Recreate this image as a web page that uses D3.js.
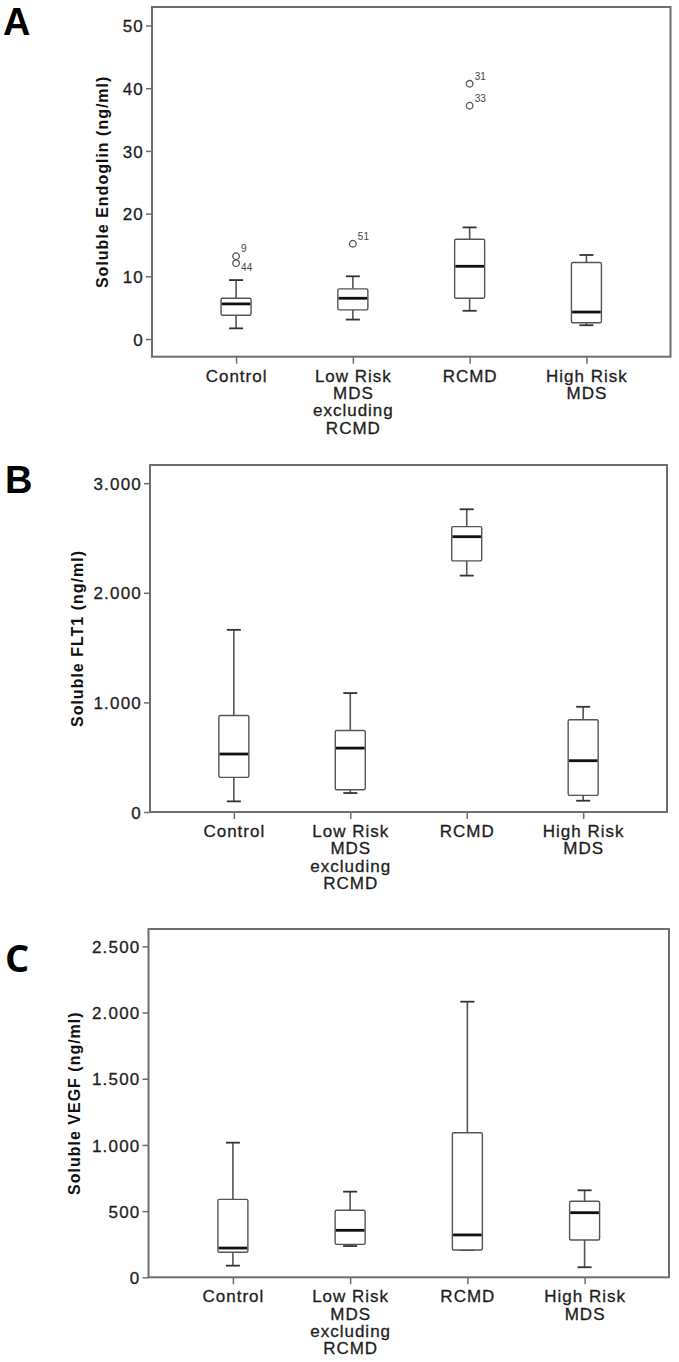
<!DOCTYPE html>
<html>
<head>
<meta charset="utf-8">
<script src="https://cdn.jsdelivr.net/npm/d3@7/dist/d3.min.js"></script>
<style>
  html, body { margin: 0; padding: 0; background: #fff; }
  svg { display: block; }
</style>
</head>
<body>
<svg id="chart" width="679" height="1362"></svg>
<script>
// ---------------- DATA ----------------
const categories = ["Control", "Low Risk MDS excluding RCMD", "RCMD", "High Risk MDS"];
const categoryLines = [["Control"], ["Low Risk", "MDS", "excluding", "RCMD"], ["RCMD"], ["High Risk", "MDS"]];

// five-number summaries: [lower whisker, Q1, median, Q3, upper whisker]
const endoglinStats = [
  [1.7, 3.8, 5.6, 6.5, 9.4],
  [3.1, 4.65, 6.5, 8.0, 10.0],
  [4.5, 6.5, 11.6, 15.9, 17.8],
  [2.2, 2.6, 4.3, 12.2, 13.4]
];
const endoglinOutliers = [
  { cat: 0, value: 13.2, label: "9", pos: "up" },
  { cat: 0, value: 12.1, label: "44", pos: "down" },
  { cat: 1, value: 15.2, label: "51", pos: "up" },
  { cat: 2, value: 40.7, label: "31", pos: "up" },
  { cat: 2, value: 37.2, label: "33", pos: "up" }
];
const endoglinTicks = [0, 10, 20, 30, 40, 50];

const flt1Stats = [
  [97, 316, 529, 881, 1662],
  [173, 203, 583, 744, 1085],
  [2157, 2291, 2512, 2604, 2762],
  [103, 152, 468, 841, 960]
];
const flt1Ticks = [0, 1000, 2000, 3000];

const vegfStats = [
  [88, 189, 221, 589, 1017],
  [236, 249, 355, 506, 647],
  [206, 206, 320, 1092, 2082],
  [76, 282, 488, 574, 657]
];
const vegfTicks = [0, 500, 1000, 1500, 2000, 2500];

// ---------------- LAYOUT ----------------
const panels = [
  { letter: "A", title: "Soluble Endoglin (ng/ml)", stats: endoglinStats, outliers: endoglinOutliers, ticks: endoglinTicks,
    left: 152, right: 670.5, top: 7, bottom: 356.7, domain: [-2.82, 52.95], titleX: 108, letterX: 3, letterY: 35, letterFont: "Liberation Sans, Arial, sans-serif" },
  { letter: "B", title: "Soluble FLT1 (ng/ml)", stats: flt1Stats, outliers: [], ticks: flt1Ticks,
    left: 150, right: 667, top: 465, bottom: 812, domain: [0, 3166], titleX: 83, letterX: 5, letterY: 493, letterFont: "Liberation Sans, Arial, sans-serif" },
  { letter: "C", title: "Soluble VEGF (ng/ml)", stats: vegfStats, outliers: [], ticks: vegfTicks,
    left: 148.5, right: 669, top: 929, bottom: 1277.3, domain: [0, 2631], titleX: 80, letterX: 5, letterY: 972, letterFont: "Open Sans, Noto Sans, sans-serif" }
];

const locale = d3.formatLocale({ decimal: ",", thousands: ".", grouping: [3], currency: ["", ""] });
const fmt = locale.format(",d");

const svg = d3.select("#chart");
const boxW = 30, capW = 14;
const frameColor = "#6e6e6e", boxColor = "#555", textColor = "#1e1e1e";

panels.forEach(p => {
  const g = svg.append("g");
  const x = d3.scalePoint().domain(categories).range([p.left, p.right]).padding(0.72);
  const y = d3.scaleLinear().domain(p.domain).range([p.bottom, p.top]);

  // y axis
  const yAxis = d3.axisLeft(y).tickValues(p.ticks).tickSize(6).tickPadding(2).tickFormat(fmt);
  const ya = g.append("g").attr("transform", `translate(${p.left},0)`).call(yAxis);
  ya.select(".domain").remove();
  ya.selectAll(".tick line").attr("stroke", frameColor).attr("stroke-width", 1.5);
  ya.selectAll(".tick text").attr("fill", textColor)
    .attr("stroke", textColor).attr("stroke-width", 0.3)
    .style("font-family", "Liberation Sans, Arial, sans-serif").style("font-size", "17px")
    .style("letter-spacing", "1.2px").attr("dy", "0.36em");

  // x axis
  const xAxis = d3.axisBottom(x).tickSize(7).tickFormat("");
  const xa = g.append("g").attr("transform", `translate(0,${p.bottom})`).call(xAxis);
  xa.select(".domain").remove();
  xa.selectAll(".tick line").attr("stroke", frameColor).attr("stroke-width", 1.5);
  xa.selectAll(".tick text").remove();
  xa.selectAll(".tick").each(function (d, i) {
    const t = d3.select(this).append("text")
      .attr("text-anchor", "middle").attr("fill", textColor)
      .attr("stroke", textColor).attr("stroke-width", 0.3)
      .style("font-family", "Liberation Sans, Arial, sans-serif").style("font-size", "17px")
      .style("letter-spacing", "1px");
    categoryLines[i].forEach((line, k) => {
      t.append("tspan").attr("x", 0).attr("y", 25 + k * 17.4).text(line);
    });
  });

  // frame
  g.append("rect").attr("x", p.left).attr("y", p.top)
    .attr("width", p.right - p.left).attr("height", p.bottom - p.top)
    .attr("fill", "none").attr("stroke", frameColor).attr("stroke-width", 2);

  // boxes
  const boxes = g.selectAll(".box").data(p.stats).join("g").attr("class", "box")
    .attr("transform", (d, i) => `translate(${x(categories[i])},0)`);
  boxes.append("line").attr("x1", 0).attr("x2", 0)
    .attr("y1", d => y(d[3])).attr("y2", d => y(d[4]))
    .attr("stroke", boxColor).attr("stroke-width", 1.6);
  boxes.append("line").attr("x1", 0).attr("x2", 0)
    .attr("y1", d => y(d[1])).attr("y2", d => y(d[0]))
    .attr("stroke", boxColor).attr("stroke-width", 1.6);
  boxes.append("line").attr("x1", -capW / 2).attr("x2", capW / 2)
    .attr("y1", d => y(d[4])).attr("y2", d => y(d[4]))
    .attr("stroke", "#333").attr("stroke-width", 1.8);
  boxes.append("line").attr("x1", -capW / 2).attr("x2", capW / 2)
    .attr("y1", d => y(d[0])).attr("y2", d => y(d[0]))
    .attr("stroke", "#333").attr("stroke-width", 1.8);
  boxes.append("rect").attr("x", -boxW / 2).attr("width", boxW)
    .attr("y", d => y(d[3])).attr("height", d => y(d[1]) - y(d[3]))
    .attr("rx", 1.5)
    .attr("fill", "#fff").attr("stroke", boxColor).attr("stroke-width", 1.4);
  boxes.append("line").attr("x1", -boxW / 2 + 0.7).attr("x2", boxW / 2 - 0.7)
    .attr("y1", d => y(d[2])).attr("y2", d => y(d[2]))
    .attr("stroke", "#111").attr("stroke-width", 2.8);

  // outliers
  const outs = g.selectAll(".out").data(p.outliers).join("g").attr("class", "out")
    .attr("transform", d => `translate(${x(categories[d.cat])},${y(d.value)})`);
  outs.append("circle").attr("r", 3.3).attr("fill", "none").attr("stroke", "#555").attr("stroke-width", 1.3);
  outs.append("text").attr("x", 5).attr("y", d => d.pos === "up" ? -4 : 7.5)
    .attr("fill", "#444").style("font-family", "Liberation Sans, Arial, sans-serif")
    .style("font-size", "10px").text(d => d.label);

  // y title
  g.append("text")
    .attr("transform", `translate(${p.titleX},${(p.top + p.bottom) / 2}) rotate(-90)`)
    .attr("text-anchor", "middle").attr("fill", "#111")
    .style("font-family", "Liberation Sans, Arial, sans-serif").style("font-size", "16px")
    .style("font-weight", "bold").style("letter-spacing", "1px")
    .text(p.title);

  // panel letter
  g.append("text").attr("x", p.letterX).attr("y", p.letterY)
    .attr("fill", "#000").style("font-family", p.letterFont)
    .style("font-size", "38px").style("font-weight", "bold").text(p.letter);
});
</script>
</body>
</html>
